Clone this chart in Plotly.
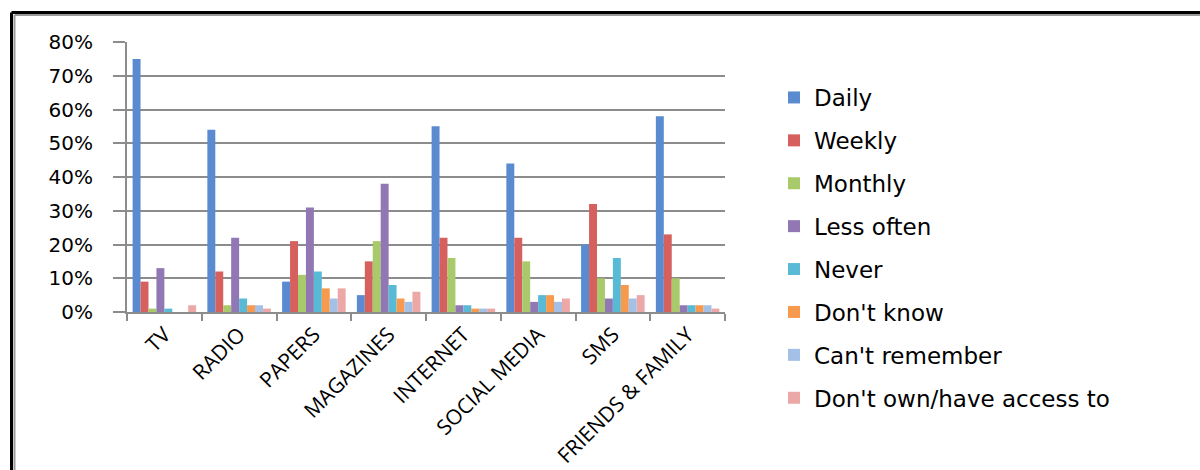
import plotly.graph_objects as go

categories = ["TV", "RADIO", "PAPERS", "MAGAZINES", "INTERNET",
              "SOCIAL MEDIA", "SMS", "FRIENDS & FAMILY"]

daily = [75, 54, 9, 5, 55, 44, 20, 58]
weekly = [9, 12, 21, 15, 22, 22, 32, 23]
monthly = [1, 2, 11, 21, 16, 15, 10, 10]
less_often = [13, 22, 31, 38, 2, 3, 4, 2]
never = [1, 4, 12, 8, 2, 5, 16, 2]
dont_know = [0, 2, 7, 4, 1, 5, 8, 2]
cant_remember = [0, 2, 4, 3, 1, 3, 4, 2]
dont_own = [2, 1, 7, 6, 1, 4, 5, 1]

series_names = ["Daily", "Weekly", "Monthly", "Less often", "Never",
                "Don't know", "Can't remember", "Don't own/have access to"]
series_values = [daily, weekly, monthly, less_often, never,
                 dont_know, cant_remember, dont_own]
series_colors = ["#5A8AD0", "#D5605D", "#A8CA6A", "#9277B5", "#58BAD4",
                 "#F79A4E", "#A3C0E6", "#EBA8A7"]

fig = go.Figure()
for i, (name, vals, col) in enumerate(zip(series_names, series_values, series_colors)):
    fig.add_trace(go.Bar(
        x=categories, y=[v / 100 for v in vals], name=name,
        marker=dict(color=col, line=dict(width=0)),
        legendgroup=f"g{i}",
    ))

# plot-area geometry (pixels) used to place the outer frame and legend
W, H = 1200, 470
L, R, T, B = 127, 475, 42, 158
pw, ph = W - L - R, H - T - B

def px_x(px):
    return (px - L) / pw

def px_y(py):
    return (H - B - py) / ph

frame = dict(color="black", width=3)
shade = dict(color="#9a9a9a", width=2)
fig.add_shape(type="line", xref="paper", yref="paper",
              x0=px_x(11.5), x1=px_x(1200), y0=px_y(12.5), y1=px_y(12.5), line=frame)
fig.add_shape(type="line", xref="paper", yref="paper",
              x0=px_x(11.5), x1=px_x(11.5), y0=px_y(12.5), y1=px_y(470), line=frame)
fig.add_shape(type="line", xref="paper", yref="paper",
              x0=px_x(14.5), x1=px_x(1200), y0=px_y(15), y1=px_y(15), line=shade)
fig.add_shape(type="line", xref="paper", yref="paper",
              x0=px_x(14.5), x1=px_x(14.5), y0=px_y(15), y1=px_y(470), line=shade)

fig.update_layout(
    width=W, height=H,
    margin=dict(l=L, r=R, t=T, b=B, autoexpand=False),
    paper_bgcolor="white", plot_bgcolor="white",
    barmode="group", bargap=0.15, bargroupgap=0,
    showlegend=True,
    legend=dict(
        x=px_x(774), xanchor="left", y=px_y(76), yanchor="top",
        font=dict(family="DejaVu Sans", size=23, color="black"),
        tracegroupgap=10, itemwidth=30,
        maxheight=420,
        bgcolor="rgba(0,0,0,0)",
    ),
)

fig.update_yaxes(
    range=[0, 0.8], dtick=0.1, tickformat=".0%",
    showgrid=True, gridcolor="#8c8c8c", gridwidth=2,
    showline=True, linecolor="#8c8c8c", linewidth=2,
    ticks="outside", ticklen=12, tickcolor="#8c8c8c", tickwidth=2,
    ticklabelstandoff=16,
    tickfont=dict(family="DejaVu Sans", size=20, color="black"),
    zeroline=False, automargin=False,
)
fig.update_xaxes(
    type="category", tickangle=-45,
    showline=True, linecolor="#8c8c8c", linewidth=2,
    ticks="outside", tickson="boundaries", ticklen=7,
    tickcolor="#8c8c8c", tickwidth=2,
    tickfont=dict(family="Open Sans", size=21, color="black"),
    automargin=False,
)

fig.write_html("out.html")
